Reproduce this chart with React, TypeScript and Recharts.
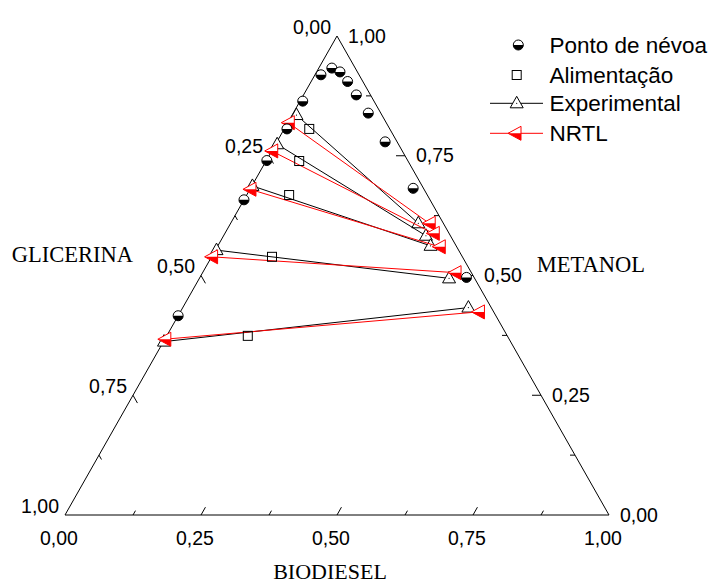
import { ScatterChart, Scatter, XAxis, YAxis, ReferenceLine } from 'recharts';

// ternary compositions (biodiesel, metanol fractions; glicerina = rest)
const cloudBiodiesel = [0.0, 0.0, 0.001, 0.005, 0.005, 0.011, 0.024, 0.043, 0.067, 0.097, 0.138, 0.199, 0.299, 0.49];
const cloudMetanol = [0.416, 0.658, 0.74, 0.806, 0.864, 0.919, 0.933, 0.925, 0.905, 0.877, 0.839, 0.779, 0.682, 0.496];

const feedBiodiesel = [0.046, 0.061, 0.078, 0.111, 0.149];
const feedMetanol = [0.806, 0.739, 0.668, 0.539, 0.374];

const expLeftBiodiesel = [0.008, 0.003, 0.001, 0.002, 0.001];
const expLeftMetanol = [0.835, 0.774, 0.687, 0.553, 0.362];
const expRightBiodiesel = [0.345, 0.372, 0.391, 0.459, 0.525];
const expRightMetanol = [0.609, 0.583, 0.562, 0.494, 0.433];

const nrtlLeftBiodiesel = [0.001, 0.0, 0.0, 0.0, 0.0];
const nrtlLeftMetanol = [0.819, 0.76, 0.68, 0.539, 0.367];
const nrtlRightBiodiesel = [0.365, 0.383, 0.408, 0.464, 0.548];
const nrtlRightMetanol = [0.609, 0.588, 0.56, 0.506, 0.424];

const labelValues = [0, 0.25, 0.5, 0.75, 1];
const tickLabels = ['0,00', '0,25', '0,50', '0,75', '1,00'];
const tickValues = [0.125, 0.25, 0.375, 0.5, 0.625, 0.75, 0.875];

const legendNames = ['Ponto de névoa', 'Alimentação', 'Experimental', 'NRTL'];

const W = 700;
const H = 569;
const margin = { top: 28, right: 99, bottom: 62, left: 57 };
const plotW = W - margin.left - margin.right;
const plotH = H - margin.top - margin.bottom;

const SANS = '"Liberation Sans", Arial, sans-serif';
const SERIF = '"Liberation Serif", "Times New Roman", serif';

const toXY = (b: number, m: number) => ({ x: b + m / 2, y: m });

const cloud = cloudBiodiesel.map((b, i) => toXY(b, cloudMetanol[i]));
const feed = feedBiodiesel.map((b, i) => toXY(b, feedMetanol[i]));
const expTies = expLeftBiodiesel.map((b, i) => [
  toXY(b, expLeftMetanol[i]),
  toXY(expRightBiodiesel[i], expRightMetanol[i]),
]);
const nrtlTies = nrtlLeftBiodiesel.map((b, i) => [
  toXY(b, nrtlLeftMetanol[i]),
  toXY(nrtlRightBiodiesel[i], nrtlRightMetanol[i]),
]);

const frame = [toXY(0, 0), toXY(1, 0), toXY(0, 1), toXY(0, 0)];

// tick length (px) -> data units along a pixel direction
const along = (dxPx: number, dyPx: number, len: number) => {
  const l = Math.sqrt(dxPx * dxPx + dyPx * dyPx);
  return { dx: (dxPx / l) * len / plotW, dy: (-dyPx / l) * len / plotH };
};

const tickSegments = tickValues.flatMap((v) => {
  const len = v === 0.25 || v === 0.5 || v === 0.75 ? 9 : 5;
  // bottom (biodiesel): toward the top vertex
  const b0 = toXY(v, 0);
  const bd = along(plotW / 2, -plotH, len);
  // left (glicerina): parallel to right edge
  const l0 = toXY(0, 1 - v);
  const ld = along(plotW / 2, plotH, len);
  // right (metanol): horizontal, to the left
  const r0 = toXY(1 - v, v);
  const rd = along(-1, 0, len);
  return [
    [b0, { x: b0.x + bd.dx, y: b0.y + bd.dy }],
    [l0, { x: l0.x + ld.dx, y: l0.y + ld.dy }],
    [r0, { x: r0.x + rd.dx, y: r0.y + rd.dy }],
  ];
});

const bottomLabels = labelValues.map((v, i) => ({ ...toXY(v, 0), label: tickLabels[i] }));
const leftLabels = labelValues.map((v, i) => ({ ...toXY(0, 1 - v), label: tickLabels[i] }));
const rightLabels = labelValues.map((v, i) => ({ ...toXY(1 - v, v), label: tickLabels[i] }));

const Empty = () => <g />;

const CloudDot = ({ cx, cy }: any) => (
  <g>
    <circle cx={cx} cy={cy} r={5} fill="#fff" stroke="#000" strokeWidth={1} />
    <path d={`M${cx - 5},${cy} A5,5 0 0 0 ${cx + 5},${cy} Z`} fill="#000" />
  </g>
);

const FeedSquare = ({ cx, cy }: any) => (
  <rect x={cx - 4.5} y={cy - 4.5} width={9} height={9} fill="none" stroke="#000" strokeWidth={1} />
);

const ExpTriangle = ({ cx, cy }: any) => (
  <g>
    <polygon
      points={`${cx},${cy - 7} ${cx - 6.5},${cy + 4.5} ${cx + 6.5},${cy + 4.5}`}
      fill="#fff"
      stroke="#000"
      strokeWidth={1}
    />
    <circle cx={cx} cy={cy} r={0.6} fill="#000" />
  </g>
);

const NrtlTriangle = ({ cx, cy }: any) => (
  <g>
    <polygon
      points={`${cx - 7},${cy} ${cx + 6},${cy - 7} ${cx + 6},${cy + 7}`}
      fill="#fff"
      stroke="#ff0000"
      strokeWidth={1}
    />
    <polygon points={`${cx - 7},${cy} ${cx + 6},${cy} ${cx + 6},${cy + 7}`} fill="#ff0000" />
  </g>
);

const makeLabel = (dx: number, dy: number, anchor: 'start' | 'middle' | 'end') => (props: any) => (
  <text
    x={props.cx + dx}
    y={props.cy + dy}
    textAnchor={anchor}
    fontFamily={SANS}
    fontSize={19.5}
    fill="#000"
  >
    {props.payload.label}
  </text>
);

const Overlay = () => {
  const rows = [37, 67, 95.3, 125.3];
  return (
    <svg
      width={708}
      height={577}
      style={{ position: 'absolute', left: 0, top: 0, pointerEvents: 'none', overflow: 'visible' }}
    >
      <CloudDot cx={510.3} cy={rows[0]} />
      <FeedSquare cx={508.7} cy={rows[1]} />
      <line x1={482} y1={rows[2]} x2={535} y2={rows[2]} stroke="#000" strokeWidth={1} />
      <ExpTriangle cx={508.7} cy={rows[2]} />
      <line x1={482} y1={rows[3]} x2={535} y2={rows[3]} stroke="#ff0000" strokeWidth={1} />
      <NrtlTriangle cx={507} cy={rows[3]} />
      {legendNames.map((n, i) => (
        <text key={n} x={541.5} y={rows[i] + 8} fontFamily={SANS} fontSize={22.5} fill="#000">
          {n}
        </text>
      ))}
      <text x={3.7} y={254} fontFamily={SERIF} fontSize={22.5} fill="#000">
        GLICERINA
      </text>
      <text x={528.7} y={264} fontFamily={SERIF} fontSize={22.5} fill="#000">
        METANOL
      </text>
      <text x={322} y={571} textAnchor="middle" fontFamily={SERIF} fontSize={22} fill="#000">
        BIODIESEL
      </text>
    </svg>
  );
};

export default function App() {
  return (
    <div style={{ position: 'relative', width: 708, height: 577, background: '#fff' }}>
      <ScatterChart width={W} height={H} margin={margin} style={{ overflow: 'visible' }}>
        <XAxis type="number" dataKey="x" domain={[0, 1]} hide />
        <YAxis type="number" dataKey="y" domain={[0, 1]} hide />
        <Scatter
          data={frame}
          line={{ stroke: '#000', strokeWidth: 1 }}
          shape={Empty}
          isAnimationActive={false}
        />
        {tickSegments.map((s, i) => (
          <ReferenceLine key={`t${i}`} segment={s} stroke="#000" strokeWidth={1} ifOverflow="visible" />
        ))}
        {expTies.map((d, i) => (
          <Scatter
            key={`e${i}`}
            data={d}
            line={{ stroke: '#000', strokeWidth: 1 }}
            shape={ExpTriangle}
            isAnimationActive={false}
          />
        ))}
        {nrtlTies.map((d, i) => (
          <Scatter
            key={`n${i}`}
            data={d}
            line={{ stroke: '#ff0000', strokeWidth: 1 }}
            shape={NrtlTriangle}
            isAnimationActive={false}
          />
        ))}
        <Scatter data={feed} shape={FeedSquare} isAnimationActive={false} />
        <Scatter data={cloud} shape={CloudDot} isAnimationActive={false} />
        <Scatter data={bottomLabels} shape={makeLabel(-6, 30, 'middle')} isAnimationActive={false} />
        <Scatter data={leftLabels} shape={makeLabel(-6, -2.5, 'end')} isAnimationActive={false} />
        <Scatter data={rightLabels} shape={makeLabel(11, 6.5, 'start')} isAnimationActive={false} />
      </ScatterChart>
      <Overlay />
    </div>
  );
}
